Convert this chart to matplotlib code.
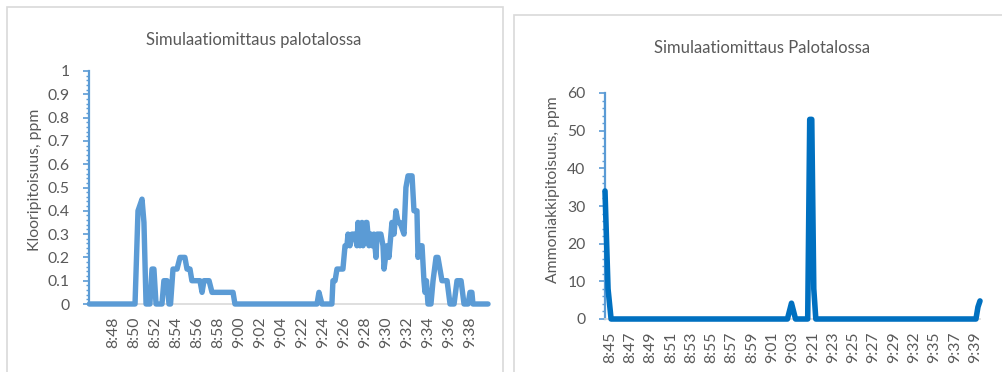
import matplotlib
matplotlib.use("Agg")
import matplotlib.pyplot as plt
import numpy as np
from matplotlib.patches import Rectangle
from matplotlib.ticker import MultipleLocator, FixedLocator

plt.rcParams['font.family'] = ['Lato', 'DejaVu Sans']

W, H = 1003, 372
TEXT = '#595959'
GRID = '#D9D9D9'
CL_BLUE = '#5B9BD5'
NH3_BLUE = '#0070C0'

# --- Chlorine measurement (clock time, ppm) ---
cl_time = [
    '8:45:45', '8:50:06', '8:50:23', '8:50:46', '8:50:57', '8:51:09', '8:51:31',
    '8:51:43', '8:51:54', '8:52:06', '8:52:40', '8:52:51', '8:53:09', '8:53:20',
    '8:53:29', '8:53:43', '8:54:06', '8:54:23', '8:54:51', '8:55:03', '8:55:20',
    '8:55:31', '8:56:17', '8:56:29', '8:56:40', '8:57:09', '8:57:26', '8:59:26',
    '8:59:37', '9:04:55',
    '9:21:00', '9:23:26', '9:23:37', '9:23:54', '9:24:51', '9:24:57', '9:25:09',
    '9:25:20', '9:25:54', '9:26:06', '9:26:17', '9:26:23', '9:26:34', '9:26:46',
    '9:27:03', '9:27:14', '9:27:20', '9:27:31', '9:27:43', '9:27:49', '9:28:06',
    '9:28:11', '9:28:23', '9:28:34', '9:28:40', '9:28:51', '9:29:03', '9:29:09',
    '9:29:31', '9:29:43', '9:29:49', '9:30:06', '9:30:17', '9:30:34', '9:30:46',
    '9:30:57', '9:31:09', '9:31:20', '9:31:43', '9:31:54', '9:32:06', '9:32:29',
    '9:32:40', '9:32:57', '9:33:03', '9:33:14', '9:33:26', '9:33:37', '9:33:43',
    '9:33:51', '9:34:00', '9:34:17', '9:34:29', '9:34:46', '9:34:57', '9:35:20',
    '9:35:49', '9:36:06', '9:36:29', '9:36:46', '9:37:09', '9:37:26', '9:37:49',
    '9:38:00', '9:38:11', '9:38:17', '9:39:43',
]
cl_ppm = [
    0, 0, 0.40, 0.45, 0.35, 0, 0,
    0.15, 0.15, 0, 0, 0.10, 0.10, 0,
    0, 0.15, 0.15, 0.20, 0.20, 0.15, 0.15,
    0.10, 0.10, 0.05, 0.10, 0.10, 0.05, 0.05,
    0, 0,
    0, 0, 0.05, 0, 0, 0.10, 0.10,
    0.15, 0.15, 0.25, 0.25, 0.30, 0.25, 0.30,
    0.30, 0.25, 0.35, 0.25, 0.35, 0.25, 0.35,
    0.35, 0.25, 0.30, 0.25, 0.30, 0.20, 0.30,
    0.30, 0.25, 0.15, 0.25, 0.20, 0.35, 0.30,
    0.40, 0.35, 0.35, 0.30, 0.50, 0.55, 0.55,
    0.40, 0.40, 0.20, 0.25, 0.25, 0.10, 0.05,
    0.10, 0, 0, 0.10, 0.20, 0.20, 0.10,
    0.10, 0, 0, 0.10, 0.10, 0, 0,
    0.05, 0.05, 0, 0,
]
cl_labels = ['8:48', '8:50', '8:52', '8:54', '8:56', '8:58', '9:00', '9:02', '9:04',
             '9:22', '9:24', '9:26', '9:28', '9:30', '9:32', '9:34', '9:36', '9:38']

# --- Ammonia measurement (sample number, ppm) ---
nh3_sample = [0, 1.5, 3, 90, 92, 94, 100, 101, 102, 103, 104, 183, 184, 185]
nh3_ppm = [34, 8, 0, 0, 4.2, 0, 0, 53, 53, 8, 0, 0, 3.2, 4.8]
nh3_labels = ['8:45', '8:47', '8:49', '8:51', '8:53', '8:55', '8:57', '8:59', '9:01',
              '9:03', '9:21', '9:23', '9:25', '9:27', '9:29', '9:32', '9:35', '9:37', '9:39']
NH3_LABEL_STEP = 10  # samples between labelled categories

TICK_FS = 11.3
LABEL_FS = 11.3
TITLE_FS = 12.0


def axis_minutes(clock):
    """Category-axis position in minutes; the paused interval 9:05-9:21 is skipped."""
    parts = [int(p) for p in clock.split(':')]
    h, m = parts[0], parts[1]
    s = parts[2] if len(parts) > 2 else 0
    minutes = h * 60 + m + s / 60 - (8 * 60 + 45)
    if minutes > 20.5:
        minutes -= 16
    return minutes


def px_rect(x0, y_top, x1, y_bot):
    return [x0 / W, 1 - y_bot / H, (x1 - x0) / W, (y_bot - y_top) / H]


fig = plt.figure(figsize=(W / 100, H / 100), dpi=100)
fig.patch.set_facecolor('white')

# chart frames
for (x0, y0, x1, y1) in [(7, 7, 503, 400), (514, 15, 1020, 400)]:
    fig.patches.append(Rectangle((x0 / W, 1 - y1 / H), (x1 - x0) / W, (y1 - y0) / H,
                                 transform=fig.transFigure, fill=False,
                                 edgecolor=GRID, linewidth=1.2))


def style_axes(ax, axis_color):
    for side in ('top', 'right'):
        ax.spines[side].set_visible(False)
    ax.spines['left'].set_color(axis_color)
    ax.spines['left'].set_linewidth(1.6)
    ax.spines['bottom'].set_color(GRID)
    ax.spines['bottom'].set_linewidth(1.2)
    ax.tick_params(axis='y', which='major', direction='out', length=4, width=1.2,
                   color=axis_color, labelcolor=TEXT, labelsize=TICK_FS, pad=10)
    ax.tick_params(axis='y', which='minor', direction='out', length=2.5, width=1.0,
                   color=axis_color)
    ax.tick_params(axis='x', which='both', length=0, labelcolor=TEXT,
                   labelsize=TICK_FS, pad=9, labelrotation=90)
    ax.set_facecolor('none')


# ---- left chart: chlorine ----
ax1 = fig.add_axes(px_rect(89, 71, 488, 304))
x_cl = [axis_minutes(t) for t in cl_time]
ax1.plot(x_cl, cl_ppm, color=CL_BLUE, lw=3.9, solid_joinstyle='round',
         solid_capstyle='round', clip_on=False, zorder=3)
ax1.set_xlim(axis_minutes('8:45:43'), axis_minutes('9:39:43'))
ax1.set_ylim(0, 1)
ax1.yaxis.set_minor_locator(MultipleLocator(0.02))
y_major = np.round(np.arange(0, 1.01, 0.1), 1)
ax1.set_yticks(y_major)
ax1.set_yticklabels([f'{v:g}' for v in y_major])
ax1.xaxis.set_major_locator(FixedLocator([axis_minutes(t) for t in cl_labels]))
ax1.set_xticklabels(cl_labels)
style_axes(ax1, CL_BLUE)
ax1.set_ylabel('Klooripitoisuus, ppm', color=TEXT, fontsize=LABEL_FS)
ax1.yaxis.set_label_coords((42 - 89) / 399, (304 - 180) / 233)
fig.text(254 / W, 1 - 40 / H, 'Simulaatiomittaus palotalossa', ha='center',
         va='center', color=TEXT, fontsize=TITLE_FS)

# ---- right chart: ammonia ----
ax2 = fig.add_axes(px_rect(605, 93, 980, 319))
ax2.plot(nh3_sample, nh3_ppm, color=NH3_BLUE, lw=4.0, solid_joinstyle='round',
         solid_capstyle='round', clip_on=False, zorder=3)
ax2.set_xlim(0, 185)
ax2.set_ylim(0, 60)
ax2.yaxis.set_major_locator(MultipleLocator(10))
ax2.yaxis.set_minor_locator(MultipleLocator(2))
ax2.xaxis.set_major_locator(FixedLocator(
    [2.5 + NH3_LABEL_STEP * i for i in range(len(nh3_labels))]))
ax2.set_xticklabels(nh3_labels)
style_axes(ax2, CL_BLUE)
ax2.set_ylabel('Ammoniakkipitoisuus, ppm', color=TEXT, fontsize=LABEL_FS)
ax2.yaxis.set_label_coords((560 - 605) / 375, (319 - 190) / 226)
fig.text(762 / W, 1 - 48 / H, 'Simulaatiomittaus Palotalossa', ha='center',
         va='center', color=TEXT, fontsize=TITLE_FS)

fig.savefig('out.png', dpi=100, facecolor='white')
